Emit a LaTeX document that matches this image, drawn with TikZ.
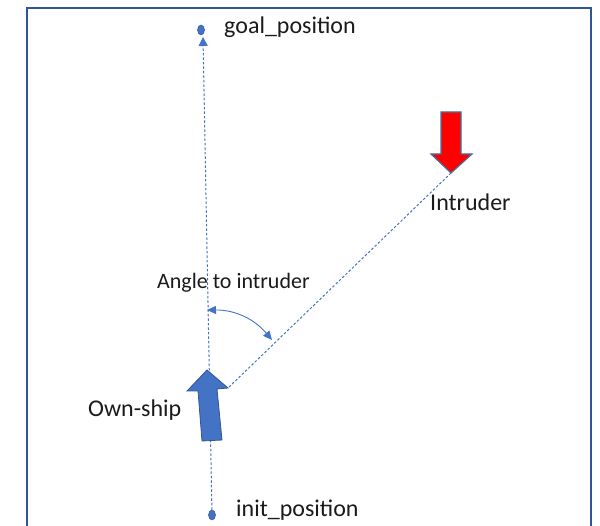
\documentclass[tikz,border=0pt]{standalone}
\usepackage{fontspec}
\setmainfont{Carlito}
\usetikzlibrary{arrows.meta,shapes.geometric}
\definecolor{frameblue}{HTML}{2F5597}
\definecolor{shipblue}{HTML}{4472C4}
\definecolor{edgeblue}{HTML}{41719C}
\definecolor{textgray}{HTML}{1A1A1A}
\begin{document}
\begin{tikzpicture}[x=1pt,y=-1pt,
  frame/.style={draw=frameblue,line width=2pt},
  pathline/.style={draw=shipblue,line width=1pt,dash pattern=on 2.5pt off 2pt},
  posdot/.style={ellipse,fill=shipblue,draw=frameblue,line width=0.5pt,inner sep=0pt},
  shipbody/.style={fill=shipblue,draw=frameblue,line width=0.8pt,line join=miter},
  intrbody/.style={fill=red,draw=edgeblue,line width=1.2pt,line join=miter},
  lbl/.style={anchor=west,inner sep=0pt,text=textgray,font=\fontsize{24}{28}\selectfont},
  anglearrow/.style={draw=shipblue,line width=0.9pt,{Triangle[width=8pt,length=9pt]}-{Triangle[width=8pt,length=9pt]}}
]
\useasboundingbox (0,0) rectangle (600,526);
% frame (open at the bottom)
\draw[frame] (27,526) -- (27,8) -- (591,8) -- (591,526);

% start and goal positions
\node[posdot,minimum width=7pt,minimum height=10pt] (goal) at (201,30) {};
\node[posdot,minimum width=7pt,minimum height=10pt] (init) at (212,515) {};
\coordinate (goaltip) at (203,37);

% key points of the two vessels
\coordinate (shiptip) at (207,370);
\coordinate (shipwing) at (228,388);
\coordinate (intrtip) at (451,173);

% planned route from init to goal
\draw[pathline,-{Triangle[width=9pt,length=9pt]}] (init) -- (goaltip);

% line of sight to the intruder
\draw[pathline] (intrtip) -- (shipwing);

% own ship
\path[shipbody] (shiptip) -- (shipwing) -- (217,389) -- (222,440) -- (202,441)
  -- (198,391) -- (187,391) -- cycle;

% intruder
\path[intrbody] (441,112) -- (461,112) -- (461,154) -- (472,154) -- (intrtip)
  -- (431,154) -- (441,154) -- cycle;

% angle between route and line of sight
\coordinate (angA) at (207,310);
\coordinate (angB) at (272,340);
\draw[anglearrow] (angA) to[bend left=25] (angB);

% labels
\node[lbl] (goallbl) at (224,27) {goal\_position};
\node[lbl] (initlbl) at (236,510) {init\_position};
\node[lbl] (intrlbl) at (430,202) {Intruder};
\node[lbl,font=\fontsize{22}{26}\selectfont] (anglelbl) at (157,283) {Angle to intruder};
\node[lbl] (shiplbl) at (88,410) {Own-ship};
\end{tikzpicture}
\end{document}
